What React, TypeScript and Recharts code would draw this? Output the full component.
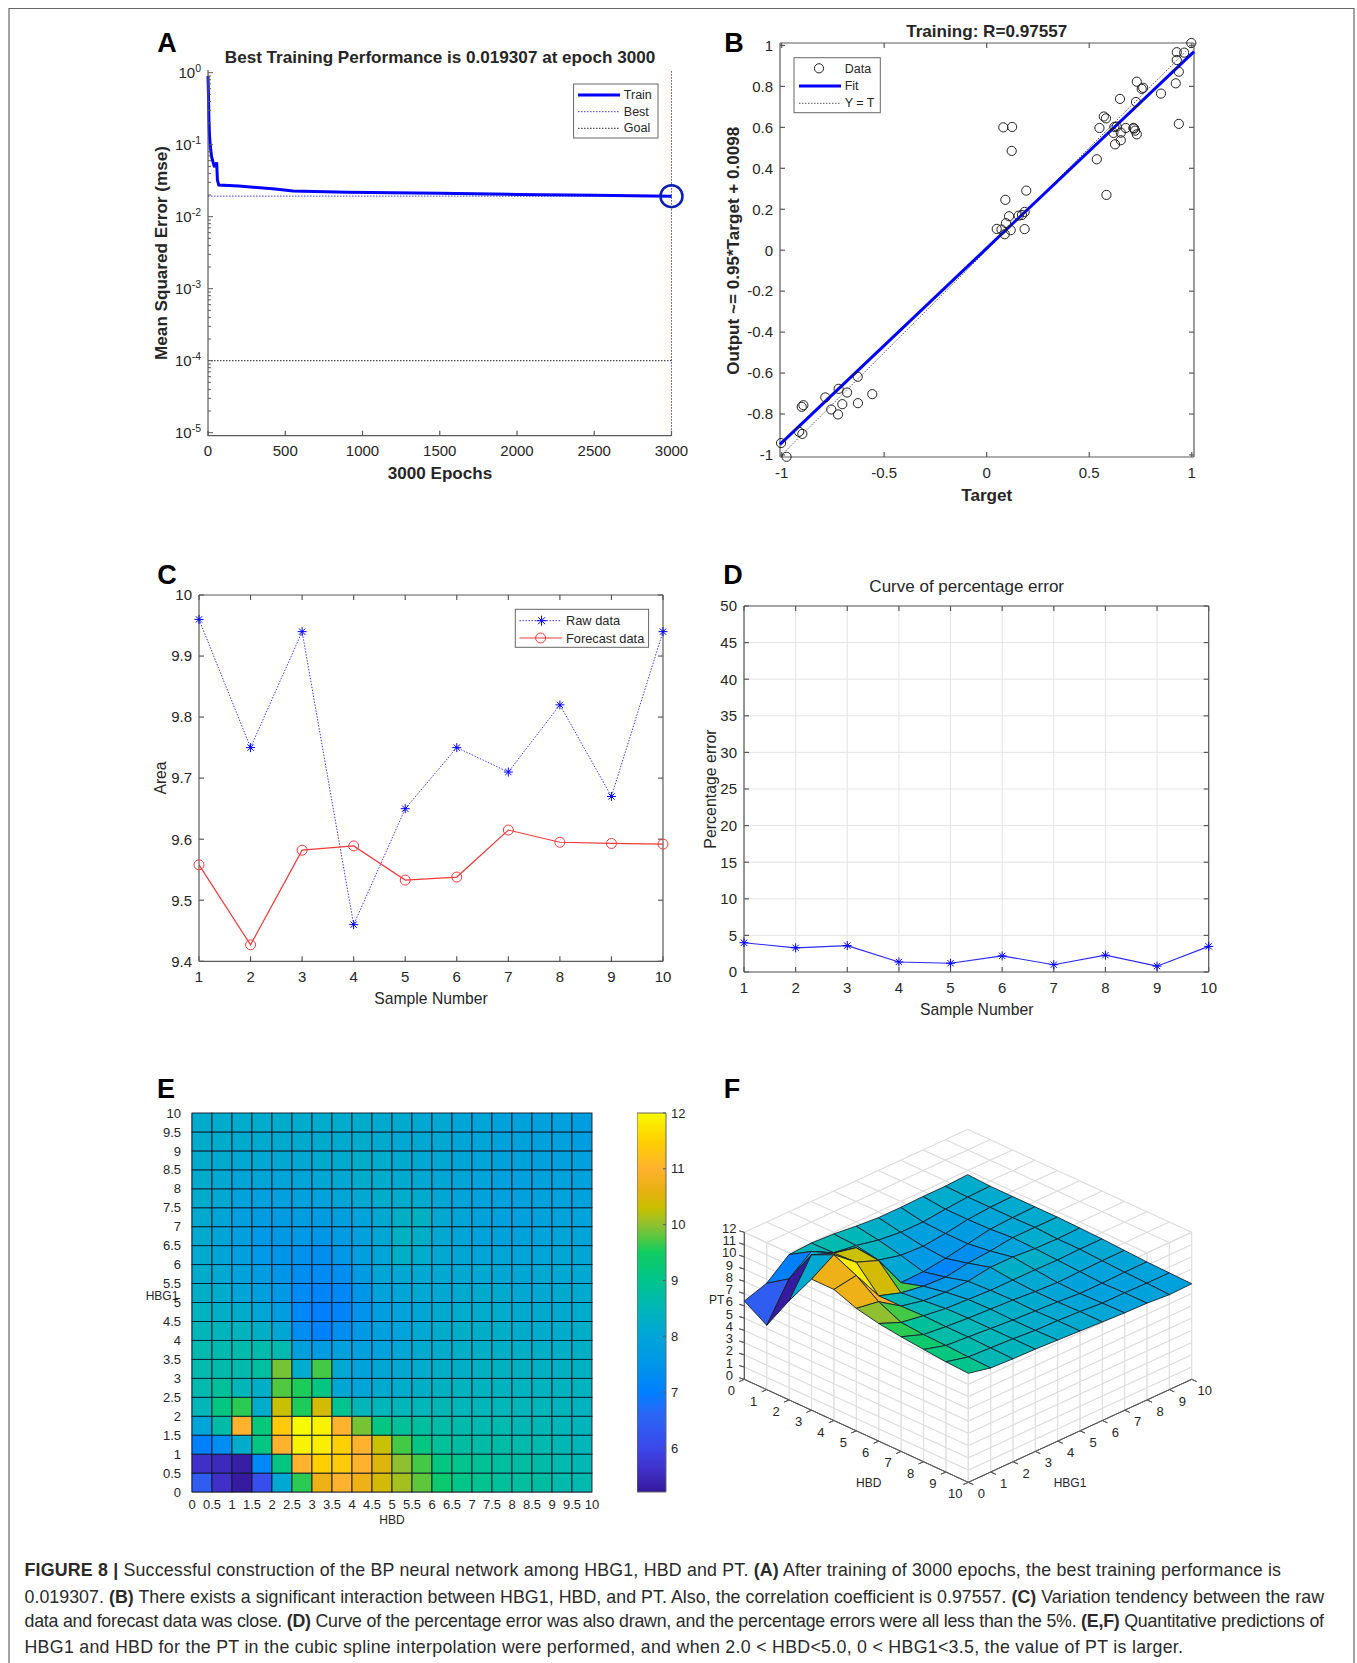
import {
  LineChart, Line, ScatterChart, Scatter, BarChart, Bar, XAxis, YAxis,
  CartesianGrid, ReferenceLine,
} from "recharts";

const FONT = "'Liberation Sans', Arial, sans-serif";
const INK = "#262626";
const AXIS = "#5a5a5a";

// A: training curve
const trainEpochs = [0, 3, 6, 10, 15, 23, 40, 52, 56, 61, 70, 200, 435, 550, 900, 1500, 2000, 2500, 3000];
const trainMse = [0.9, 0.5, 0.22, 0.13, 0.095, 0.068, 0.0505, 0.05, 0.057, 0.032, 0.0275, 0.0267, 0.0242, 0.0228, 0.0218, 0.0211, 0.0204, 0.0198, 0.0193];
const bestMse = 0.019307;
const goalMse = 0.0001;
const bestEpoch = 3000;
const epochTicks = [0, 500, 1000, 1500, 2000, 2500, 3000];
const logTicks = [1e-5, 1e-4, 1e-3, 1e-2, 1e-1, 1];
const logMinorTicks = [
  2e-5, 3e-5, 4e-5, 5e-5, 6e-5, 7e-5, 8e-5, 9e-5, 2e-4, 3e-4, 4e-4, 5e-4, 6e-4, 7e-4, 8e-4, 9e-4,
  2e-3, 3e-3, 4e-3, 5e-3, 6e-3, 7e-3, 8e-3, 9e-3, 0.02, 0.03, 0.04, 0.05, 0.06, 0.07, 0.08, 0.09,
  0.2, 0.3, 0.4, 0.5, 0.6, 0.7, 0.8, 0.9,
];

// B: regression
const targetValues = [-1.003, -0.976, -0.915, -0.899, -0.902, -0.894, -0.787, -0.758, -0.725, -0.722, -0.704, -0.681, -0.629, -0.628, -0.558, 0.049, 0.072, 0.088, 0.117, 0.094, 0.109, 0.091, 0.081, 0.124, 0.122, 0.156, 0.172, 0.185, 0.185, 0.193, 0.537, 0.55, 0.584, 0.571, 0.582, 0.618, 0.626, 0.623, 0.634, 0.654, 0.654, 0.65, 0.678, 0.715, 0.719, 0.724, 0.732, 0.728, 0.732, 0.756, 0.763, 0.85, 0.922, 0.927, 0.927, 0.937, 0.937, 0.963, 0.998];
const outputValues = [-0.942, -1.009, -0.887, -0.897, -0.765, -0.757, -0.719, -0.778, -0.802, -0.677, -0.752, -0.695, -0.618, -0.747, -0.703, 0.104, 0.101, 0.078, 0.098, 0.132, 0.166, 0.246, 0.6, 0.602, 0.485, 0.169, 0.172, 0.187, 0.103, 0.291, 0.444, 0.597, 0.27, 0.653, 0.644, 0.573, 0.517, 0.602, 0.604, 0.574, 0.537, 0.739, 0.597, 0.597, 0.594, 0.584, 0.566, 0.724, 0.823, 0.788, 0.793, 0.765, 0.815, 0.967, 0.929, 0.872, 0.617, 0.965, 1.012];
const fitLine = [{ x: -1.008, y: -0.948 }, { x: 1.011, y: 0.97 }];
const identityLine = [{ x: -1, y: -1 }, { x: 1, y: 1 }];
const targetTicks = [-1, -0.5, 0, 0.5, 1];
const outputTicks = [-1, -0.8, -0.6, -0.4, -0.2, 0, 0.2, 0.4, 0.6, 0.8, 1];

// C and D
const sampleNumbers = [1, 2, 3, 4, 5, 6, 7, 8, 9, 10];
const rawData = [9.96, 9.75, 9.94, 9.46, 9.65, 9.75, 9.71, 9.82, 9.67, 9.94];
const forecastData = [9.558, 9.427, 9.582, 9.589, 9.533, 9.538, 9.615, 9.595, 9.593, 9.592];
const percentError = [4.0, 3.3, 3.6, 1.37, 1.2, 2.2, 1.0, 2.3, 0.8, 3.5];
const areaTicks = [9.4, 9.5, 9.6, 9.7, 9.8, 9.9, 10];
const errorTicks = [0, 5, 10, 15, 20, 25, 30, 35, 40, 45, 50];

// E: heatmap, bottom row first (HBG1 0-0.5), columns HBD 0-0.5 ... 9.5-10
const heatRow00 = [6.4, 5.6, 5.25, 6.1, 8.1, 9.6, 10.7, 11, 10.7, 10.4, 10.1, 9.8, 9.35, 9.05, 8.95, 8.85, 8.8, 8.75, 8.65, 8.6];
const heatRow01 = [5.6, 5.5, 5.3, 7.2, 9.1, 11, 11.5, 11.4, 11, 10.5, 10, 9.7, 9.1, 9, 8.9, 8.8, 8.75, 8.7, 8.6, 8.55];
const heatRow02 = [7, 7.3, 8.2, 9.1, 11, 11.9, 11.85, 11.5, 11, 10.3, 9.7, 9.1, 8.85, 8.75, 8.7, 8.7, 8.65, 8.6, 8.55, 8.5];
const heatRow03 = [8, 8.7, 11, 9.2, 11.4, 12, 11.9, 11, 9.9, 9.1, 8.85, 8.8, 8.7, 8.65, 8.6, 8.6, 8.55, 8.55, 8.5, 8.45];
const heatRow04 = [8.5, 9.1, 9.6, 8.2, 10.3, 9.55, 10.4, 8.95, 8.5, 8.5, 8.5, 8.5, 8.55, 8.5, 8.5, 8.5, 8.5, 8.5, 8.45, 8.4];
const heatRow05 = [8.6, 8.85, 8.5, 8.3, 9.75, 9.55, 9.1, 8.05, 8, 8.15, 8.2, 8.3, 8.35, 8.4, 8.4, 8.4, 8.4, 8.4, 8.4, 8.4];
const heatRow06 = [8.6, 8.65, 8.65, 8.8, 9.9, 8.2, 9.7, 8.1, 7.9, 8.05, 8.1, 8.2, 8.3, 8.3, 8.35, 8.35, 8.35, 8.35, 8.35, 8.35];
const heatRow07 = [8.6, 8.6, 8.65, 8.65, 8.6, 7.8, 7.7, 7.85, 7.85, 7.9, 8.05, 8.15, 8.2, 8.3, 8.3, 8.3, 8.3, 8.3, 8.3, 8.3];
const heatRow08 = [8.5, 8.45, 8.4, 8.3, 8.05, 7.3, 7.05, 7.35, 7.6, 7.8, 7.95, 8.1, 8.2, 8.25, 8.25, 8.25, 8.2, 8.2, 8.2, 8.25];
const heatRow09 = [8.4, 8.3, 8.2, 8, 7.75, 7.15, 7, 7.1, 7.45, 7.75, 7.95, 8.05, 8.15, 8.2, 8.2, 8.2, 8.15, 8.15, 8.15, 8.2];
const heatRow10 = [8.3, 8.2, 8, 7.8, 7.6, 7.25, 7.1, 7.2, 7.5, 7.9, 8, 8.1, 8.1, 8.15, 8.15, 8.15, 8.1, 8.1, 8.15, 8.15];
const heatRow11 = [8.2, 8.1, 7.9, 7.7, 7.5, 7.3, 7.25, 7.35, 7.65, 8, 8.1, 8.1, 8.1, 8.1, 8.1, 8.05, 8.05, 8.1, 8.1, 8.1];
const heatRow12 = [8.15, 8, 7.8, 7.6, 7.5, 7.4, 7.35, 7.55, 7.8, 8, 8.3, 8.2, 8.1, 8.05, 8, 8, 8, 8, 8.05, 8.05];
const heatRow13 = [8.15, 8, 7.8, 7.6, 7.6, 7.6, 7.55, 7.65, 7.85, 8.05, 8.35, 8.25, 8.1, 8, 7.9, 7.9, 7.9, 7.95, 8, 8];
const heatRow14 = [8.15, 8, 7.8, 7.7, 7.7, 7.75, 7.7, 7.8, 7.95, 8.1, 8.3, 8.35, 8.1, 8, 7.9, 7.85, 7.85, 7.9, 7.9, 7.95];
const heatRow15 = [8.2, 8.1, 7.9, 7.85, 7.85, 7.85, 7.9, 8, 8.1, 8.2, 8.2, 8.15, 8.05, 7.95, 7.9, 7.85, 7.85, 7.9, 7.9, 7.9];
const heatRow16 = [8.2, 8.1, 8, 8, 8, 8, 8.05, 8.1, 8.2, 8.2, 8.15, 8.1, 8.05, 8, 7.95, 7.85, 7.85, 7.9, 7.9, 7.9];
const heatRow17 = [8.2, 8.15, 8.1, 8.1, 8.1, 8.1, 8.15, 8.15, 8.25, 8.2, 8.15, 8.1, 8.1, 8, 8, 7.9, 7.9, 7.85, 7.85, 7.85];
const heatRow18 = [8.2, 8.2, 8.15, 8.15, 8.15, 8.15, 8.15, 8.15, 8.2, 8.15, 8.1, 8.1, 8.1, 8, 8, 7.9, 7.9, 7.85, 7.85, 7.75];
const heatRow19 = [8.2, 8.2, 8.2, 8.2, 8.2, 8.2, 8.2, 8.2, 8.2, 8.15, 8.15, 8.1, 8.1, 8, 8, 7.9, 7.9, 7.85, 7.85, 7.75];
const heatRows = [heatRow00, heatRow01, heatRow02, heatRow03, heatRow04, heatRow05, heatRow06, heatRow07, heatRow08, heatRow09, heatRow10, heatRow11, heatRow12, heatRow13, heatRow14, heatRow15, heatRow16, heatRow17, heatRow18, heatRow19];
const halfTicks = [0, 0.5, 1, 1.5, 2, 2.5, 3, 3.5, 4, 4.5, 5, 5.5, 6, 6.5, 7, 7.5, 8, 8.5, 9, 9.5, 10];
const heatCenters = [0.25, 0.75, 1.25, 1.75, 2.25, 2.75, 3.25, 3.75, 4.25, 4.75, 5.25, 5.75, 6.25, 6.75, 7.25, 7.75, 8.25, 8.75, 9.25, 9.75];
const colorbarTicks = [6, 7, 8, 9, 10, 11, 12];

// F: surface, PT at HBG1 = 0..10 (rows) and HBD = 0..10 (columns)
const surfaceG0 = [6.4, 5.25, 8.1, 10.7, 10.7, 10, 9.6, 9.36, 9.17, 9, 8.9];
const surfaceG1 = [7, 8.2, 11, 11.85, 11, 9.7, 8.85, 8.7, 8.65, 8.55, 8.5];
const surfaceG2 = [8.5, 9.6, 10.3, 10.4, 8.5, 8.5, 8.55, 8.5, 8.5, 8.45, 8.4];
const surfaceG3 = [8.6, 8.65, 9.9, 9.7, 7.9, 8.1, 8.3, 8.35, 8.35, 8.35, 8.35];
const surfaceG4 = [8.5, 8.4, 8.05, 7.05, 7.6, 7.95, 8.2, 8.25, 8.2, 8.2, 8.25];
const surfaceG5 = [8.3, 8, 7.6, 7.1, 7.5, 8, 8.1, 8.15, 8.1, 8.15, 8.15];
const surfaceG6 = [8.15, 7.8, 7.5, 7.35, 7.8, 8.3, 8.1, 8, 8, 8.05, 8.05];
const surfaceG7 = [8.15, 7.8, 7.7, 7.7, 7.95, 8.3, 8.1, 7.9, 7.85, 7.9, 7.95];
const surfaceG8 = [8.2, 8, 8, 8.05, 8.2, 8.15, 8.05, 7.95, 7.85, 7.9, 7.9];
const surfaceG9 = [8.2, 8.15, 8.15, 8.15, 8.2, 8.1, 8.1, 8, 7.9, 7.85, 7.75];
const surfaceG10 = [8.3, 8.2, 8.2, 8.2, 8.2, 8.15, 8.1, 8, 7.9, 7.85, 7.8];
const surfaceRows = [surfaceG0, surfaceG1, surfaceG2, surfaceG3, surfaceG4, surfaceG5, surfaceG6, surfaceG7, surfaceG8, surfaceG9, surfaceG10];
const unitTicks = [0, 1, 2, 3, 4, 5, 6, 7, 8, 9, 10];
const ptTicks = [0, 1, 2, 3, 4, 5, 6, 7, 8, 9, 10, 11, 12];

// colormap in panel E
const parula: [number, string][] = [
  [5.21, "#35189a"], [5.6, "#4030c8"], [6, "#3a48ea"], [6.6, "#2a66f5"], [7, "#0080ff"], [7.5, "#0096e8"],
  [8, "#00a5d8"], [8.5, "#00b6b8"], [9, "#00c48c"], [9.5, "#10cc60"], [9.75, "#50c840"], [10, "#90c030"],
  [10.3, "#c8c000"], [10.6, "#e8b010"], [11, "#ffb22e"], [11.5, "#ffd000"], [12, "#f8fa00"],
];

function parulaColor(v: number) {
  const hex = (s: string) => [1, 3, 5].map((i) => parseInt(s.slice(i, i + 2), 16));
  for (let i = 1; i < parula.length; i++) {
    if (v <= parula[i][0]) {
      const [v0, c0] = parula[i - 1];
      const [v1, c1] = parula[i];
      const t = Math.max(0, (v - v0) / (v1 - v0));
      const a = hex(c0);
      const b = hex(c1);
      return `rgb(${a.map((c, k) => Math.round(c + (b[k] - c) * t)).join(",")})`;
    }
  }
  return parula[parula.length - 1][1];
}

const tickStyle = (size: number, fill = INK) => ({ fill, fontSize: size, fontFamily: FONT });

// plot rectangle in page pixels -> absolute chart box with fixed axis gutters
const PAD = { left: 50, right: 20, top: 10, bottom: 26 };
function box(x0: number, y0: number, x1: number, y1: number, mirrored = false) {
  const extra = mirrored ? 1 : 0; // mirror axes need 1px of their own or they are not drawn
  return {
    style: { position: "absolute" as const, left: x0 - PAD.left, top: y0 - PAD.top },
    width: x1 - x0 + PAD.left + PAD.right,
    height: y1 - y0 + PAD.top + PAD.bottom,
    margin: { left: 0, right: PAD.right - extra, top: PAD.top - extra, bottom: 0 },
  };
}

// the other two sides of the matlab box, ticks only
function mirrorAxes(xKey: string, yKey: string, xDomain: number[], xTicks: number[], yDomain: number[], yTicks: number[]) {
  return [
    <XAxis key="tx" xAxisId="top" dataKey={xKey} orientation="top" type="number" height={1} domain={xDomain as any} ticks={xTicks}
      interval={0} stroke={AXIS} strokeWidth={1.2} tickSize={-5} tickFormatter={() => ""} />,
    <YAxis key="ry" yAxisId="right" dataKey={yKey} orientation="right" type="number" width={1} domain={yDomain as any} ticks={yTicks}
      interval={0} stroke={AXIS} strokeWidth={1.2} tickSize={-5} tickFormatter={() => ""} />,
  ];
}

// decades get a label and a long tick, the rest only a short tick
const LOG_TICK_GAP = 7;
function LogTick({ x, y, payload }: any) {
  const exponent = Math.log10(payload.value);
  const decade = Math.abs(exponent - Math.round(exponent)) < 1e-6;
  const axisX = x + LOG_TICK_GAP;
  return (
    <g>
      <line x1={axisX} x2={axisX + (decade ? 5 : 3)} y1={y} y2={y} stroke={AXIS} strokeWidth={1} />
      {decade && (
        <text x={x} y={y + 5} textAnchor="end" fontFamily={FONT} fontSize={15} fill={INK}>
          10<tspan dy={-6} fontSize={10.5}>{Math.round(exponent)}</tspan>
        </text>
      )}
    </g>
  );
}

function PerformancePanel() {
  const trainRows = trainEpochs.map((epoch, i) => ({ epoch, mse: trainMse[i] }));
  const xDomain = [0, 3000];
  const yDomain = [0.909e-5, 1.09];
  return (
    <LineChart {...box(208, 70, 671.5, 435.7)} data={trainRows}>
      <XAxis dataKey="epoch" type="number" domain={xDomain} ticks={epochTicks} interval={0}
        height={PAD.bottom} stroke={AXIS} strokeWidth={1.2} tickSize={-5} tickMargin={15} tick={tickStyle(15)} />
      <YAxis scale="log" type="number" domain={yDomain} ticks={[...logTicks, ...logMinorTicks]} interval={0}
        width={PAD.left} stroke={AXIS} strokeWidth={1.2} tickLine={false} tickSize={0} tickMargin={LOG_TICK_GAP} tick={<LogTick />} />
      <ReferenceLine y={goalMse} stroke="#222" strokeDasharray="1.5 1.5" strokeWidth={1} />
      <ReferenceLine y={bestMse} stroke="#3a3af0" strokeDasharray="1.5 1.5" strokeWidth={1} />
      <ReferenceLine x={bestEpoch} stroke="#3a3af0" strokeDasharray="1.5 1.5" strokeWidth={1} />
      <Line dataKey="mse" stroke="#0000ff" strokeWidth={3} dot={false} isAnimationActive={false} type="linear" />
      <Line data={[{ epoch: bestEpoch, mse: bestMse }]} dataKey="mse" stroke="none" isAnimationActive={false}
        dot={{ r: 11, fill: "none", stroke: "#0a1fb4", strokeWidth: 2.5 }} />
    </LineChart>
  );
}

function RegressionPanel() {
  const scatterRows = targetValues.map((x, i) => ({ x, y: outputValues[i] }));
  const xDomain = [-1.008, 1.011];
  const yDomain = [-1.01, 1.012];
  return (
    <ScatterChart {...box(780, 43.3, 1194, 457.3, true)}>
      <XAxis dataKey="x" type="number" domain={xDomain} ticks={targetTicks} interval={0}
        height={PAD.bottom} stroke={AXIS} strokeWidth={1.2} tickSize={-5} tickMargin={15} tick={tickStyle(15)} />
      <YAxis dataKey="y" type="number" domain={yDomain} ticks={outputTicks} interval={0}
        width={PAD.left} stroke={AXIS} strokeWidth={1.2} tickSize={-5} tickMargin={12} tick={tickStyle(15)} />
      {mirrorAxes("x", "y", xDomain, targetTicks, yDomain, outputTicks)}
      <Scatter xAxisId="top" yAxisId="right" data={identityLine} shape={() => <g />} isAnimationActive={false} />
      <Scatter data={identityLine} line={{ stroke: "#555", strokeWidth: 1, strokeDasharray: "1.5 1.5" }} shape={() => <g />} isAnimationActive={false} />
      <Scatter data={fitLine} line={{ stroke: "#0000ff", strokeWidth: 3 }} shape={() => <g />} isAnimationActive={false} />
      <Scatter data={scatterRows} isAnimationActive={false}
        shape={(p: any) => <circle cx={p.cx} cy={p.cy} r={4.6} fill="none" stroke="#222" strokeWidth={1} />} />
    </ScatterChart>
  );
}

const starDot = (size: number) => (p: any) => (
  <path key={p.index} stroke="#0000ff" strokeWidth={1} fill="none"
    d={`M${p.cx - size} ${p.cy}H${p.cx + size}M${p.cx} ${p.cy - size}V${p.cy + size}M${p.cx - size * 0.7} ${p.cy - size * 0.7}L${p.cx + size * 0.7} ${p.cy + size * 0.7}M${p.cx - size * 0.7} ${p.cy + size * 0.7}L${p.cx + size * 0.7} ${p.cy - size * 0.7}`} />
);

function ForecastPanel() {
  const rows = sampleNumbers.map((n, i) => ({ n, raw: rawData[i], forecast: forecastData[i] }));
  const xDomain = [1, 10];
  const yDomain = [9.4, 10];
  return (
    <LineChart {...box(199, 595, 663, 961.3, true)} data={rows}>
      <XAxis dataKey="n" type="number" domain={xDomain} ticks={sampleNumbers} interval={0}
        height={PAD.bottom} stroke={AXIS} strokeWidth={1.2} tickSize={-5} tickMargin={15} tick={tickStyle(15)} />
      <YAxis type="number" domain={yDomain} ticks={areaTicks} interval={0}
        width={PAD.left} stroke={AXIS} strokeWidth={1.2} tickSize={-5} tickMargin={12} tick={tickStyle(15)} tickFormatter={(v: number) => (v === 10 ? "10" : v.toFixed(1))} />
      {mirrorAxes("n", "raw", xDomain, sampleNumbers, yDomain, areaTicks)}
      <Line xAxisId="top" yAxisId="right" dataKey="raw" stroke="none" dot={false} isAnimationActive={false} />
      <Line dataKey="raw" stroke="#3a3af5" strokeWidth={1} strokeDasharray="1.5 1.5" dot={starDot(4.5)} isAnimationActive={false} type="linear" />
      <Line dataKey="forecast" stroke="#f23a3a" strokeWidth={1.2} dot={{ r: 5, fill: "none", stroke: "#f23a3a", strokeWidth: 1 }} isAnimationActive={false} type="linear" />
    </LineChart>
  );
}

function ErrorPanel() {
  const rows = sampleNumbers.map((n, i) => ({ n, error: percentError[i] }));
  const xDomain = [1, 10];
  const yDomain = [0, 50];
  return (
    <LineChart {...box(744.3, 606, 1209, 972, true)} data={rows}>
      <CartesianGrid stroke="#e4e4e4" strokeWidth={1} horizontalValues={errorTicks} verticalValues={sampleNumbers} />
      <XAxis dataKey="n" type="number" domain={xDomain} ticks={sampleNumbers} interval={0}
        height={PAD.bottom} stroke={AXIS} strokeWidth={1.2} tickSize={-5} tickMargin={15} tick={tickStyle(15)} />
      <YAxis type="number" domain={yDomain} ticks={errorTicks} interval={0}
        width={PAD.left} stroke={AXIS} strokeWidth={1.2} tickSize={-5} tickMargin={12} tick={tickStyle(15)} />
      {mirrorAxes("n", "error", xDomain, sampleNumbers, yDomain, errorTicks)}
      <Line xAxisId="top" yAxisId="right" dataKey="error" stroke="none" dot={false} isAnimationActive={false} />
      <Line dataKey="error" stroke="#2a2af5" strokeWidth={1.1} dot={starDot(4.5)} isAnimationActive={false} type="linear" />
    </LineChart>
  );
}

const HEAT_X0 = 192;
const HEAT_X1 = 592;
const HEAT_Y0 = 1113;
const HEAT_Y1 = 1492;

function heatCell(p: any) {
  const w = (HEAT_X1 - HEAT_X0) / heatCenters.length;
  const h = (HEAT_Y1 - HEAT_Y0) / heatCenters.length;
  return <rect x={p.cx - w / 2} y={p.cy - h / 2} width={w} height={h} fill={parulaColor(p.payload.pt)} stroke="#101828" strokeWidth={0.9} />;
}

function HeatmapPanel() {
  const cells = heatRows.flatMap((values, k) =>
    values.map((pt, c) => ({ x: heatCenters[c], y: heatCenters[k], pt })));
  return (
    <ScatterChart {...box(HEAT_X0, HEAT_Y0, HEAT_X1, HEAT_Y1)}>
      <XAxis dataKey="x" type="number" domain={[0, 10]} ticks={halfTicks} interval={0}
        height={PAD.bottom} stroke={AXIS} tickLine={false} tickMargin={2} tick={tickStyle(13)} />
      <YAxis dataKey="y" type="number" domain={[0, 10]} ticks={halfTicks} interval={0}
        width={PAD.left} stroke={AXIS} tickLine={false} tickMargin={5} tick={tickStyle(13)} />
      <Scatter data={cells} shape={heatCell} isAnimationActive={false} />
    </ScatterChart>
  );
}

function ColorbarPanel() {
  const lo = parula[0][0];
  const hi = 12;
  return (
    <BarChart style={{ position: "absolute", left: 636.5, top: 1103 }} width={69} height={399}
      margin={{ left: 0, right: 0, top: 10, bottom: 10 }} data={[{ name: "PT", range: [lo, hi] }]} barCategoryGap={0}>
      <defs>
        <linearGradient id="parulaBar" x1="0" y1="0" x2="0" y2="1">
          {parula.map(([v, c]) => <stop key={v} offset={(hi - v) / (hi - lo)} stopColor={c} />).reverse()}
        </linearGradient>
      </defs>
      <XAxis dataKey="name" hide />
      <YAxis orientation="right" type="number" domain={[lo, hi]} ticks={colorbarTicks} interval={0}
        width={40} axisLine={false} stroke={AXIS} tickSize={-3} tickMargin={8} tick={tickStyle(13)} />
      <Bar dataKey="range" fill="url(#parulaBar)" stroke="#666" strokeWidth={1} isAnimationActive={false} />
    </BarChart>
  );
}

// panel F: oblique projection of the mesh, in pixels of its own chart box
const F_LEFT = 720;
const F_TOP = 1115;
const F_WIDTH = 500;
const F_HEIGHT = 395;
function project(h: number, g: number, z: number) {
  return {
    x: 690 + (163 + 67.2 * h + 67 * g) / 3 - F_LEFT,
    y: 1070 + (928 + 30.9 * h - 30.9 * g - 36.75 * z) / 3 - F_TOP,
  };
}
type Pt = { x: number; y: number };
function mark(points: Pt[], fill: string, stroke: string, strokeWidth: number) {
  const [first] = points;
  return { x: first.x, y: first.y, offsets: points.map((p) => [p.x - first.x, p.y - first.y]), fill, stroke, strokeWidth };
}
function polyShape(p: any) {
  const { offsets, fill, stroke, strokeWidth } = p.payload;
  return (
    <polygon points={offsets.map(([dx, dy]: number[]) => `${p.cx + dx},${p.cy + dy}`).join(" ")}
      fill={fill} stroke={stroke} strokeWidth={strokeWidth} strokeLinejoin="round" />
  );
}
function labelShape(p: any) {
  return <text x={p.cx} y={p.cy} textAnchor="middle" dominantBaseline="central" fontFamily={FONT} fontSize={13} fill={INK}>{p.payload.text}</text>;
}

function SurfacePanel() {
  const GRID = "#dfdfdf";
  const wall: any[] = [];
  unitTicks.forEach((k) => {
    wall.push(mark([project(k, 0, 12), project(k, 10, 12)], "none", GRID, 1));
    wall.push(mark([project(0, k, 12), project(10, k, 12)], "none", GRID, 1));
    wall.push(mark([project(k, 0, 0), project(k, 0, 12)], "none", GRID, 1));
    wall.push(mark([project(10, k, 0), project(10, k, 12)], "none", GRID, 1));
  });
  ptTicks.forEach((z) => {
    wall.push(mark([project(0, 0, z), project(10, 0, z)], "none", GRID, 1));
    wall.push(mark([project(10, 0, z), project(10, 10, z)], "none", GRID, 1));
  });

  const faces: any[] = [];
  for (let h = 0; h < 10; h++) {
    for (let g = 0; g < 10; g++) {
      faces.push({
        depth: h - g,
        ...mark([
          project(h, g, surfaceRows[g][h]),
          project(h + 1, g, surfaceRows[g][h + 1]),
          project(h + 1, g + 1, surfaceRows[g + 1][h + 1]),
          project(h, g + 1, surfaceRows[g + 1][h]),
        ], parulaColor(surfaceRows[g][h]), "#16202c", 0.9),
      });
    }
  }
  faces.sort((a, b) => a.depth - b.depth);

  const axes: any[] = [
    mark([project(0, 0, 0), project(10, 0, 0)], "none", AXIS, 1),
    mark([project(10, 0, 0), project(10, 10, 0)], "none", AXIS, 1),
    mark([project(0, 0, 0), project(0, 0, 12)], "none", AXIS, 1),
  ];
  unitTicks.forEach((k) => {
    const a = project(k, 0, 0);
    axes.push(mark([a, { x: a.x - 5, y: a.y + 2.2 }], "none", AXIS, 1));
    const b = project(10, k, 0);
    axes.push(mark([b, { x: b.x + 5, y: b.y + 2.2 }], "none", AXIS, 1));
  });
  ptTicks.forEach((z) => {
    const a = project(0, 0, z);
    axes.push(mark([a, { x: a.x - 5, y: a.y - 1.5 }], "none", AXIS, 1));
  });

  const labels: any[] = [];
  unitTicks.forEach((k) => {
    const a = project(k, 0, 0);
    labels.push({ x: a.x - 13, y: a.y + 11.5, text: String(k) });
    const b = project(10, k, 0);
    labels.push({ x: b.x + 13, y: b.y + 11.5, text: String(k) });
  });
  ptTicks.forEach((z) => {
    const a = project(0, 0, z);
    labels.push({ x: a.x - 15, y: a.y - 4, text: String(z) });
  });

  return (
    <ScatterChart style={{ position: "absolute", left: F_LEFT, top: F_TOP }} width={F_WIDTH} height={F_HEIGHT}
      margin={{ left: 0, right: 0, top: 0, bottom: 0 }}>
      <XAxis dataKey="x" type="number" domain={[0, F_WIDTH]} hide />
      <YAxis dataKey="y" type="number" domain={[0, F_HEIGHT]} reversed hide />
      <Scatter data={wall} shape={polyShape} isAnimationActive={false} />
      <Scatter data={axes} shape={polyShape} isAnimationActive={false} />
      <Scatter data={faces} shape={polyShape} isAnimationActive={false} />
      <Scatter data={labels} shape={labelShape} isAnimationActive={false} />
    </ScatterChart>
  );
}

function Label({ x, y, size, bold, rotate, fill = INK, anchor = "middle", children }: any) {
  return (
    <text x={x} y={y} fontSize={size} fontFamily={FONT} fontWeight={bold ? "bold" : "normal"} fill={fill} textAnchor={anchor}
      dominantBaseline="central" transform={rotate ? `rotate(${rotate} ${x} ${y})` : undefined}>
      {children}
    </text>
  );
}

function CaptionLine({ y, width, children }: any) {
  return (
    <text x={24.5} y={y} fontSize={17.8} fontFamily={FONT} fill="#2a2a2a" dominantBaseline="central" textLength={width} lengthAdjust="spacing">
      {children}
    </text>
  );
}

function Overlay() {
  return (
    <svg width={1357} height={1663} style={{ position: "absolute", left: 0, top: 0, pointerEvents: "none" }}>
      <path d="M9 1663V8.5H1354V1663" fill="none" stroke="#666" strokeWidth={1.2} />

      <Label x={167} y={43} size={27} bold fill="#000">A</Label>
      <Label x={734} y={43} size={27} bold fill="#000">B</Label>
      <Label x={167} y={575} size={27} bold fill="#000">C</Label>
      <Label x={733} y={575} size={27} bold fill="#000">D</Label>
      <Label x={166} y={1089} size={27} bold fill="#000">E</Label>
      <Label x={732} y={1089} size={27} bold fill="#000">F</Label>

      <Label x={440} y={57.7} size={17.1} bold>Best Training Performance is 0.019307 at epoch 3000</Label>
      <Label x={440} y={473} size={17.1} bold>3000 Epochs</Label>
      <Label x={161} y={253} size={17.1} bold rotate={-90}>Mean Squared Error  (mse)</Label>
      <rect x={573.6} y={84} width={84.4} height={54} fill="#fff" stroke="#666" />
      <line x1={578} x2={620} y1={95} y2={95} stroke="#0000ff" strokeWidth={3} />
      <line x1={578} x2={620} y1={111.7} y2={111.7} stroke="#3a3af0" strokeDasharray="1.5 1.5" />
      <line x1={578} x2={620} y1={128.3} y2={128.3} stroke="#222" strokeDasharray="1.5 1.5" />
      <Label x={623.8} y={95} size={12.5} anchor="start">Train</Label>
      <Label x={623.8} y={111.7} size={12.5} anchor="start">Best</Label>
      <Label x={623.8} y={128.3} size={12.5} anchor="start">Goal</Label>

      <Label x={986.7} y={31.7} size={17.1} bold>Training: R=0.97557</Label>
      <Label x={986.7} y={495} size={17.1} bold>Target</Label>
      <Label x={734} y={250.7} size={17.1} bold rotate={-90}>Output ~= 0.95*Target + 0.0098</Label>
      <rect x={794} y={57.7} width={86.3} height={55} fill="#fff" stroke="#666" />
      <circle cx={819} cy={68.3} r={4.6} fill="none" stroke="#222" />
      <line x1={799} x2={841} y1={86} y2={86} stroke="#0000ff" strokeWidth={3} />
      <line x1={799} x2={841} y1={103.3} y2={103.3} stroke="#555" strokeDasharray="1.5 1.5" />
      <Label x={844.7} y={69} size={12.5} anchor="start">Data</Label>
      <Label x={844.7} y={86} size={12.5} anchor="start">Fit</Label>
      <Label x={844.7} y={103.3} size={12.5} anchor="start">Y = T</Label>

      <Label x={431} y={998} size={15.7}>Sample Number</Label>
      <Label x={160.7} y={778} size={15.7} rotate={-90}>Area</Label>
      <rect x={515.3} y={609.3} width={133.3} height={38} fill="#fff" stroke="#666" />
      <line x1={519.5} x2={561.8} y1={620.7} y2={620.7} stroke="#3a3af5" strokeDasharray="1.5 1.5" />
      <path stroke="#0000ff" fill="none" d="M536.6 620.7h10M541.6 615.7v10M538.1 617.2l7 7M538.1 624.2l7-7" />
      <line x1={519.5} x2={561.8} y1={638} y2={638} stroke="#f23a3a" strokeWidth={1.2} />
      <circle cx={540.6} cy={638} r={5} fill="none" stroke="#f23a3a" />
      <Label x={566} y={620.7} size={12.8} anchor="start">Raw data</Label>
      <Label x={566} y={638} size={12.8} anchor="start">Forecast data</Label>

      <Label x={966.7} y={586.7} size={17}>Curve of percentage error</Label>
      <Label x={976.7} y={1009} size={15.7}>Sample Number</Label>
      <Label x={710} y={789} size={15.9} rotate={-90}>Percentage error</Label>

      <Label x={392} y={1520} size={12}>HBD</Label>
      <Label x={162} y={1296} size={12}>HBG1</Label>

      <Label x={868.7} y={1482.7} size={12}>HBD</Label>
      <Label x={1070} y={1482.7} size={12}>HBG1</Label>
      <Label x={716.7} y={1300} size={12}>PT</Label>

      <CaptionLine y={1570} width={1256.5}>
        <tspan fontWeight="bold">FIGURE 8 | </tspan>Successful construction of the BP neural network among HBG1, HBD and PT. <tspan fontWeight="bold">(A)</tspan> After training of 3000 epochs, the best training performance is
      </CaptionLine>
      <CaptionLine y={1597} width={1299.5}>
        0.019307. <tspan fontWeight="bold">(B)</tspan> There exists a significant interaction between HBG1, HBD, and PT. Also, the correlation coefficient is 0.97557. <tspan fontWeight="bold">(C)</tspan> Variation tendency between the raw
      </CaptionLine>
      <CaptionLine y={1621} width={1299.5}>
        data and forecast data was close. <tspan fontWeight="bold">(D)</tspan> Curve of the percentage error was also drawn, and the percentage errors were all less than the 5%. <tspan fontWeight="bold">(E,F)</tspan> Quantitative predictions of
      </CaptionLine>
      <CaptionLine y={1646.5} width={1158.5}>
        HBG1 and HBD for the PT in the cubic spline interpolation were performed, and when 2.0 {"<"} HBD{"<"}5.0, 0 {"<"} HBG1{"<"}3.5, the value of PT is larger.
      </CaptionLine>
    </svg>
  );
}

export default function App() {
  return (
    <div style={{ width: 1341, height: 1647, background: "#fff" }}>
      <PerformancePanel />
      <RegressionPanel />
      <ForecastPanel />
      <ErrorPanel />
      <HeatmapPanel />
      <ColorbarPanel />
      <SurfacePanel />
      <Overlay />
    </div>
  );
}
